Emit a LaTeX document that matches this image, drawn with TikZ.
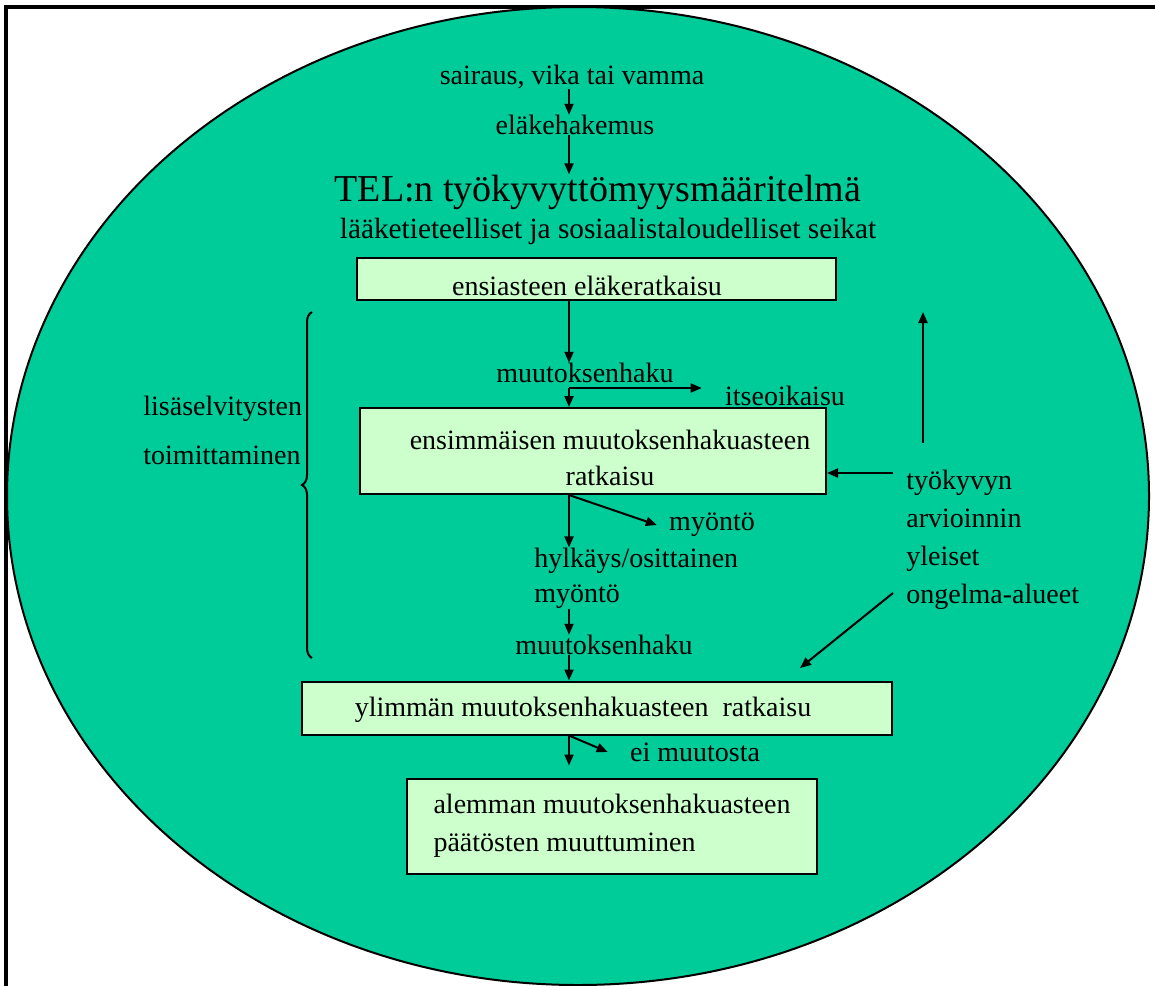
\documentclass[tikz,border=0pt]{standalone}
\usepackage{fontspec}
\setmainfont{Liberation Serif}
\usepackage{tikz}
\usetikzlibrary{arrows.meta,positioning,decorations.pathreplacing}
\definecolor{ovalgreen}{RGB}{0,204,153}
\definecolor{boxgreen}{RGB}{204,255,204}
\newcommand{\fs}{\fontsize{14}{17.5}\selectfont}
\newcommand{\lowr}[1]{\rule{0pt}{#1}}

\begin{document}
\begin{tikzpicture}[x=0.5pt,y=-0.5pt,
  box/.style={draw,line width=1pt,fill=boxgreen,inner sep=0pt,align=center,font=\fontsize{14}{18}\selectfont},
  lbl/.style={inner sep=0pt,font=\fs},
  arr/.style={-{Triangle[length=5.5pt,width=4.5pt]},line width=1pt}]
\useasboundingbox (0,0) rectangle (1155,985);
\clip (0,0) rectangle (1155,985);
% frame and oval
\draw[line width=2pt] (6,1000) -- (6,7) -- (1170,7);
\draw[fill=ovalgreen,line width=1pt] (578,496) ellipse [x radius=571,y radius=489];
% top of the chain
\node[lbl] (cause) at (572,77) {sairaus, vika tai vamma};
\node[lbl] (claim) at (575,125) {eläkehakemus};
\node[lbl,font=\fontsize{19}{22}\selectfont] (defn) at (598,192) {TEL:n työkyvyttömyysmääritelmä};
\node[lbl,font=\fontsize{14.65}{17.5}\selectfont] (facts) at (608,231) {lääketieteelliset ja sosiaalistaloudelliset seikat};
\coordinate (spine) at (569,388);
\draw[arr] (cause.south -| spine) -- (claim.north -| spine);
\draw[arr] (claim.south -| spine) -- (defn.north -| spine);
% first decision and first appeal
\node[box,minimum width=239.5pt,minimum height=21pt] (first) at (596,279)
  {\lowr{16.7pt}ensiasteen eläkeratkaisu\hspace*{9pt}};
\node[lbl] (appeal1) at (585,373) {muutoksenhaku};
\node[lbl] (selfcorr) at (785,396) {itseoikaisu};
\node[box,minimum width=233pt,minimum height=43pt] (second) at (593,451)
  {\lowr{16.7pt}\hspace*{17pt}ensimmäisen muutoksenhakuasteen\\\hspace*{17pt}ratkaisu};
\draw[arr] (first.south -| spine) -- (appeal1.north -| spine);
\draw[arr] (spine) -- ([xshift=-11.5pt]selfcorr.west |- spine);
\draw[arr] (spine) -- (second.north -| spine);
% problem areas
\node[lbl,align=left,anchor=west,font=\fontsize{14}{19}\selectfont] (probl) at (906,540)
  {työkyvyn\\arvioinnin\\yleiset\\ongelma-alueet};
\coordinate (upfoot) at (923,443);
\coordinate (uptip) at (923,312);
\coordinate (leftfoot) at (893,473);
\coordinate (diagfoot) at (893,593);
\coordinate (diagtip) at (800,668);
\draw[arr] (upfoot) -- (uptip);
\draw[arr] (leftfoot) -- (second.east |- leftfoot);
\draw[arr] (diagfoot) -- (diagtip);
% further reports
\node[lbl,align=left,anchor=west,font=\fontsize{14}{24.5}\selectfont] (extra) at (143,430)
  {lisäselvitysten\\toimittaminen};
\draw[decorate,decoration={brace,amplitude=5pt},line width=1pt] (312,658) -- (312,312);
% second appeal
\node[lbl] (grant) at (712,525) {myöntö};
\node[lbl,align=left,anchor=west] (reject) at (534,578) {hylkäys/osittainen\\myöntö};
\node[lbl] (appeal2) at (604,645) {muutoksenhaku};
\draw[arr] (second.south -| spine) -- (reject.north -| spine);
\draw[arr] (second.south -| spine) -- ([xshift=-6pt]grant.west);
\draw[arr] (reject.south -| spine) -- (appeal2.north -| spine);
% highest instance
\node[box,minimum width=295pt,minimum height=26.5pt] (final) at (597,708)
  {\lowr{11.5pt}ylimmän muutoksenhakuasteen\ \ ratkaisu\hspace*{14pt}};
\node[lbl] (nochange) at (695,752) {ei muutosta};
\node[box,align=left,minimum width=205pt,minimum height=47.5pt,font=\fontsize{14}{19}\selectfont] (lower) at (612,826)
  {alemman muutoksenhakuasteen\\päätösten muuttuminen};
\draw[arr] (appeal2.south -| spine) -- (final.north -| spine);
\draw[arr,shorten >=6pt] (final.south -| spine) -- (lower.north -| spine);
\draw[arr] (final.south -| spine) -- ([xshift=-11pt]nochange.west);
\end{tikzpicture}
\end{document}
